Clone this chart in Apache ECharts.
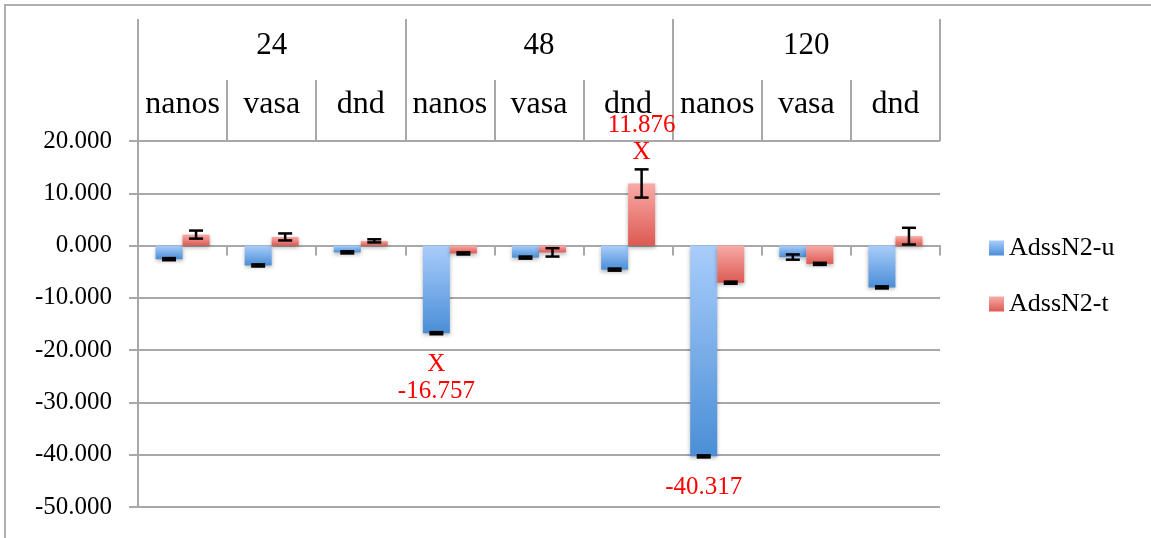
<!DOCTYPE html>
<html>
<head>
<meta charset="utf-8">
<script src="https://cdn.jsdelivr.net/npm/echarts@6/dist/echarts.min.js"></script>
<style>
  html, body { margin: 0; padding: 0; background: #fff; }
  #chart { width: 1151px; height: 538px; }
</style>
</head>
<body>
<div id="chart"></div>
<script>
// 横轴: 两层分类
var groups = ['24', '48', '120']
var categories = ['nanos', 'vasa', 'dnd', 'nanos', 'vasa', 'dnd', 'nanos', 'vasa', 'dnd']
// 两组数据 + 误差
var seriesNames = ['AdssN2-u', 'AdssN2-t']
var valuesU = [-2.6, -3.8, -1.3, -16.757, -2.3, -4.6, -40.317, -2.2, -8.0]
var errorsU = [0.2, 0.2, 0.2, 0.2, 0.2, 0.2, 0.2, 0.5, 0.2]
var valuesT = [2.1, 1.65, 0.9, -1.5, -1.3, 11.876, -7.1, -3.5, 1.8]
var errorsT = [0.77, 0.67, 0.3, 0.2, 0.8, 2.7, 0.2, 0.2, 1.6]
// 标注: 下标 -> 文字前缀
var notesU = { 3: 'X\n', 6: '' }
var notesT = { 5: '\nX' }

var font = 'Liberation Serif'
var gray = '#a8a8a8'
var barWidth = 27

function buildBars(values, notes, below) {
  return values.map(function (v, i) {
    if (!(i in notes)) return v
    var txt = below ? notes[i] + v.toFixed(3) : v.toFixed(3) + notes[i]
    return {
      value: v,
      label: {
        show: true,
        position: below ? 'bottom' : 'top',
        distance: 18,
        formatter: txt,
        color: '#ff0000',
        fontFamily: font,
        fontSize: 25,
        lineHeight: 27
      }
    }
  })
}

function errData(values, errs) {
  return values.map(function (v, i) { return [i, v - errs[i], v + errs[i]] })
}

function errSeries(values, errs, side) {
  return {
    type: 'custom',
    xAxisIndex: 0,
    yAxisIndex: 0,
    z: 5,
    encode: { x: 0, y: [1, 2] },
    data: errData(values, errs),
    renderItem: function (params, api) {
      var lo = api.coord([api.value(0), api.value(1)])
      var hi = api.coord([api.value(0), api.value(2)])
      var x = lo[0] + side * barWidth / 2
      var w = 7
      var style = { stroke: '#000', lineWidth: 2.5 }
      return {
        type: 'group',
        children: [
          { type: 'line', shape: { x1: x, y1: lo[1], x2: x, y2: hi[1] }, style: style },
          { type: 'line', shape: { x1: x - w, y1: lo[1], x2: x + w, y2: lo[1] }, style: style },
          { type: 'line', shape: { x1: x - w, y1: hi[1], x2: x + w, y2: hi[1] }, style: style }
        ]
      }
    }
  }
}

function grad(top, bottom) {
  return new echarts.graphic.LinearGradient(0, 0, 0, 1, [
    { offset: 0, color: top },
    { offset: 1, color: bottom }
  ])
}

var chart = echarts.init(document.getElementById('chart'))
chart.setOption({
  animation: false,
  textStyle: { fontFamily: font },
  graphic: [{
    type: 'rect',
    shape: { x: 5, y: 5, width: 1200, height: 600 },
    style: { fill: null, stroke: '#b0b0b0', lineWidth: 2 },
    silent: true
  }],
  legend: {
    orient: 'vertical',
    left: 984,
    top: 230,
    itemWidth: 15,
    itemHeight: 15,
    itemGap: 30,
    icon: 'rect',
    textStyle: { fontFamily: font, fontSize: 26, color: '#000' },
    data: seriesNames
  },
  grid: { left: 138, right: 211, top: 141, bottom: 31 },
  xAxis: [
    {
      type: 'category',
      data: categories,
      axisLine: { onZero: true, lineStyle: { color: gray, width: 2 } },
      axisTick: { show: true, length: 10, lineStyle: { color: gray, width: 2 } },
      axisLabel: { show: false }
    },
    {
      type: 'category',
      position: 'top',
      data: categories,
      axisLine: { show: false },
      axisTick: { show: true, interval: 0, length: 61, lineStyle: { color: gray, width: 2 } },
      axisLabel: { interval: 0, hideOverlap: false, fontFamily: font, fontSize: 32, color: '#000', margin: 20 }
    },
    {
      type: 'category',
      position: 'top',
      data: groups,
      axisLine: { show: false },
      axisTick: { show: true, interval: 0, length: 122, lineStyle: { color: gray, width: 2 } },
      axisLabel: { interval: 0, fontFamily: font, fontSize: 31, color: '#000', margin: 80 }
    }
  ],
  yAxis: {
    type: 'value',
    min: -50,
    max: 20,
    interval: 10,
    axisLine: { show: true, lineStyle: { color: gray, width: 2 } },
    axisTick: { show: true, length: 9, lineStyle: { color: gray, width: 2 } },
    axisLabel: {
      fontFamily: font,
      fontSize: 25,
      color: '#000',
      margin: 26,
      formatter: function (v) { return v.toFixed(3) }
    },
    splitLine: { lineStyle: { color: gray, width: 2 } }
  },
  series: [
    {
      name: seriesNames[0],
      type: 'bar',
      barWidth: barWidth,
      barGap: '0%',
      data: buildBars(valuesU, notesU, true),
      itemStyle: {
        color: grad('#a9cdfb', '#4a8ed6'),
        shadowBlur: 4,
        shadowOffsetY: 2,
        shadowColor: 'rgba(0,0,0,0.3)'
      }
    },
    {
      name: seriesNames[1],
      type: 'bar',
      barWidth: barWidth,
      barGap: '0%',
      data: buildBars(valuesT, notesT, false),
      itemStyle: {
        color: grad('#f9aba7', '#dc5a52'),
        shadowBlur: 4,
        shadowOffsetY: 2,
        shadowColor: 'rgba(0,0,0,0.3)'
      }
    },
    errSeries(valuesU, errorsU, -1),
    errSeries(valuesT, errorsT, 1)
  ]
})
</script>
</body>
</html>
